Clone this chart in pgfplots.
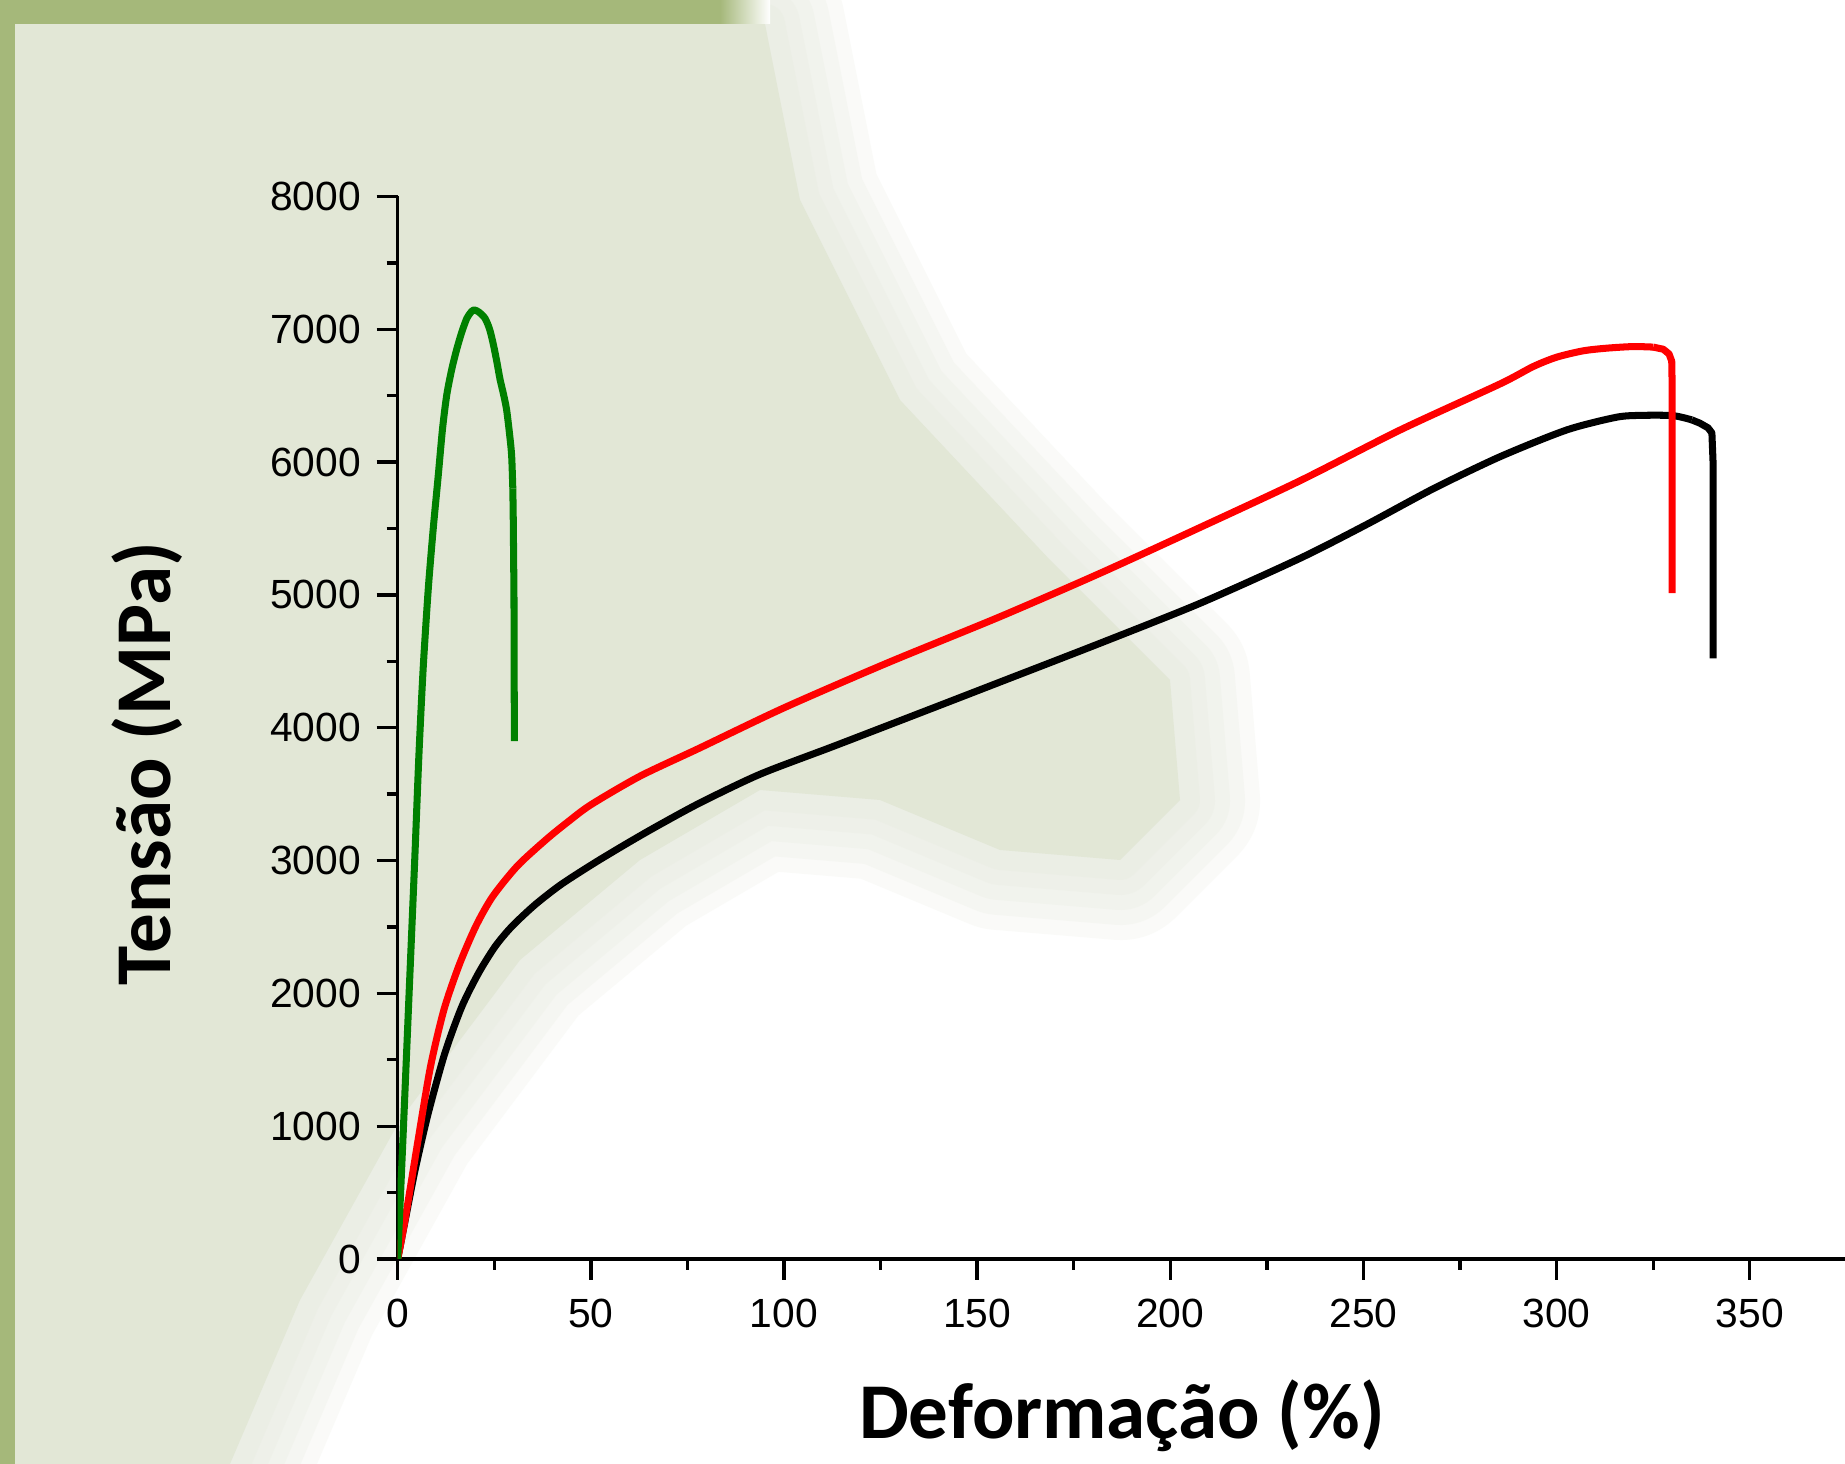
\documentclass[border=0pt]{standalone}
\usepackage{pgfplots}
\pgfplotsset{compat=1.18}
\usepackage{fontspec}
\setmainfont{Liberation Sans}
\newfontfamily\calibri{Carlito}
\definecolor{panel}{RGB}{226,231,214}
\definecolor{bar}{RGB}{165,184,122}
\definecolor{pgreen}{RGB}{0,128,0}
\begin{document}
\begin{tikzpicture}[x=1mm,y=1mm]
\useasboundingbox (0,0) rectangle (184.5,146.4);
\fill[white] (0,0) rectangle (184.5,146.4);
\def\panelpath{(1.5,144.0) -- (76.5,144.0) -- (80,126.4) -- (90,106.4) -- (105,90.4) -- (117,78.4) -- (118,66.4) -- (112,60.4) -- (100,61.4) -- (88,66.4) -- (76,67.4) -- (64,60.4) -- (52,50.4) -- (40,34.4) -- (30,16.4) -- (23,0) -- (1.5,0) -- cycle}
\foreach \w in {16,13,10,7,4} {
  \draw[panel, line width=\w mm, opacity=0.17, line join=round] \panelpath;
}
\fill[panel] \panelpath;
\fill[bar] (0,0) rectangle (1.5,146.4);
\fill[bar] (0,144.0) rectangle (72,146.4);
\shade[left color=bar, right color=white] (72,144.0) rectangle (77,146.4);
\begin{axis}[
  at={(39.77mm,20.5mm)}, anchor=south west, scale only axis,
  width=144.73mm, height=106.25mm,
  xmin=0, xmax=374.66, ymin=0, ymax=8000,
  axis lines=left, axis line style={-, line width=0.95pt, black},
  tick align=outside, major tick length=2.1mm, minor tick length=1.1mm,
  tick style={black, line width=0.95pt},
  xtick={0,50,...,350}, ytick={0,1000,...,8000},
  minor x tick num=1, minor y tick num=1,
  scaled ticks=false,
  /pgf/number format/1000 sep={},
  /pgf/number format/assume math mode=true,
  tick label style={font=\fontsize{11.6}{13}\selectfont},
  yticklabel style={anchor=east, inner sep=0pt, xshift=-1.5mm},
  xticklabel style={anchor=north, inner sep=0pt, yshift=-1.8mm},
  xlabel={Deformação (\%)}, ylabel={Tensão (MPa)},
  xlabel style={at={(axis description cs:0.5005,-0.148)}, anchor=center, font=\calibri\bfseries\fontsize{22.5}{26}\selectfont},
  ylabel style={at={(axis description cs:-0.173,0.466)}, anchor=center, font=\calibri\bfseries\fontsize{22.5}{26}\selectfont},
  every axis plot/.append style={line width=2pt, line join=round},
]
% black
\addplot[black, smooth, tension=0.45] coordinates {
(0,0) (2.2,330) (4.5,670) (7.9,1097) (12.2,1549) (16.6,1900) (20.9,2151) (25.2,2352)
(29.5,2502) (35.5,2666) (42.3,2820) (51.1,2985) (59.7,3135) (67.5,3265) (78.3,3435)
(93.8,3650) (112.8,3860) (136.9,4130) (156,4345) (181.8,4636) (207.7,4937)
(233.6,5276) (250.8,5530) (268.1,5800) (285.3,6040) (302.6,6242) (315.5,6338)
(322,6352) (330.1,6350) (335,6318)
};
\addplot[black] coordinates {
(335,6318) (337.1,6293) (339.2,6258) (340.2,6220) (340.5,6000) (340.5,4523)
};
% red
\addplot[red, smooth, tension=0.45] coordinates {
(0,0) (1.9,294) (5.3,900) (8.5,1450) (12,1880) (16,2220) (20.3,2510) (24.6,2730)
(31,2960) (38.5,3160) (44,3290) (50,3420) (62.7,3635) (78,3845) (100,4150)
(126.6,4486) (156,4837) (181.8,5163) (207.7,5508) (233.6,5860) (259.5,6242)
(285.3,6588) (293.9,6719) (300,6790) (306.9,6838) (313,6858) (319.8,6870)
(325,6866)
};
\addplot[red] coordinates {
(325,6866) (327.6,6850) (329.1,6815) (329.8,6760) (329.9,6600) (329.9,5013)
};
% green
\addplot[pgreen, smooth, tension=0.45] coordinates {
(0,0) (1.5,1000) (2.95,2000) (4.4,3000) (5.5,3800) (6.6,4450) (7.9,5040) (9.2,5500)
(10.5,5900) (11.6,6250) (12.7,6506) (14,6700) (15.3,6852) (16.6,6980) (17.9,7083)
(19,7130) (19.8,7146) (21,7130) (22.6,7083) (23.8,7000) (24.8,6881) (25.7,6750)
(26.5,6622) (27.4,6510) (28.2,6393) (29,6200) (29.5,6047) (29.8,5800)
};
\addplot[pgreen] coordinates {
(29.8,5800) (29.9,5613) (30.1,5000) (30.2,3900)
};
\end{axis}
\end{tikzpicture}
\end{document}
